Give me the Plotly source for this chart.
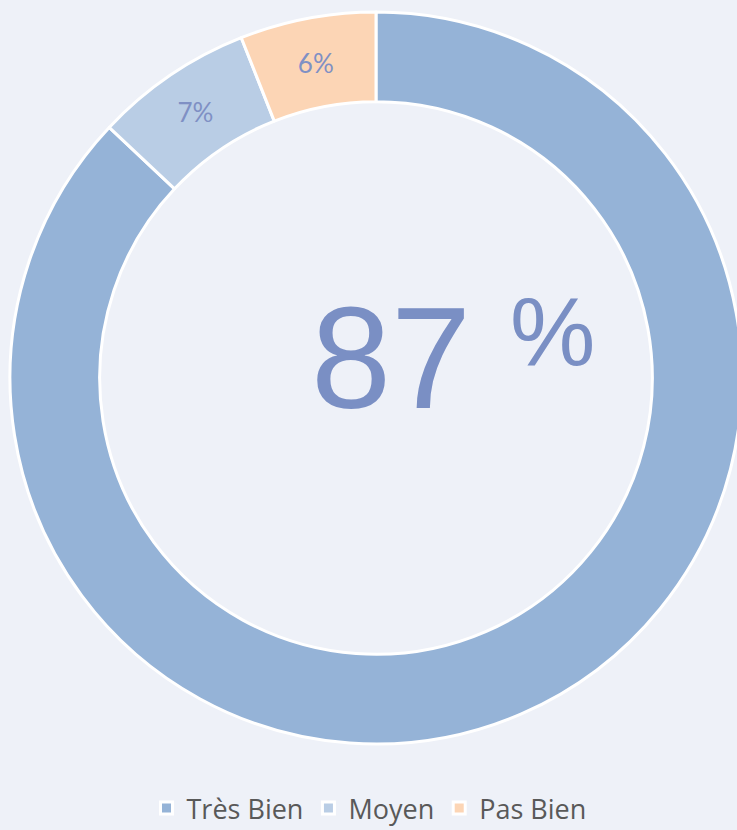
import plotly.graph_objects as go

labels = ["Très Bien", "Moyen", "Pas Bien"]
values = [87, 7, 6]
slice_text = ["", "7%", "6%"]
colors = ["#95B3D7", "#B9CDE5", "#FCD5B5"]
center_number = "87"
center_unit = "%"

W, H = 760, 830
cx, cy, R = 376, 378, 366

fig = go.Figure(go.Pie(
    labels=labels,
    values=values,
    text=slice_text,
    textinfo="text",
    textposition="inside",
    insidetextorientation="horizontal",
    textfont=dict(family="Lato", size=26, color="#7F90C4"),
    hole=0.755,
    sort=False,
    direction="clockwise",
    rotation=0,
    marker=dict(colors=colors, line=dict(color="white", width=3)),
    domain=dict(x=[(cx - R) / W, (cx + R) / W], y=[1 - (cy + R) / H, 1 - (cy - R) / H]),
    hoverinfo="label+percent",
))

fig.add_annotation(x=391 / W, y=1 - 358 / H, xref="paper", yref="paper",
                   text=center_number, showarrow=False,
                   font=dict(family="Liberation Sans", size=144, color="#7A8FC4"),
                   xanchor="center", yanchor="middle")
fig.add_annotation(x=552 / W, y=1 - 331 / H, xref="paper", yref="paper",
                   text=center_unit, showarrow=False,
                   font=dict(family="Liberation Sans", size=96, color="#7A8FC4"),
                   xanchor="center", yanchor="middle")

fig.update_layout(
    width=W, height=H,
    margin=dict(l=0, r=0, t=0, b=0, autoexpand=False),
    paper_bgcolor="#EEF1F8",
    plot_bgcolor="#EEF1F8",
    showlegend=True,
    legend=dict(orientation="h", x=369 / W, xanchor="center", y=-3 / H, yanchor="bottom",
                font=dict(family="Open Sans", size=27, color="#595959"),
                itemwidth=30, tracegroupgap=0),
)

fig.write_html(
    "out.html",
    config={"displayModeBar": False},
    post_script="document.body.style.margin='0';document.body.style.overflow='hidden';"
                "document.documentElement.style.overflow='hidden';",
)
